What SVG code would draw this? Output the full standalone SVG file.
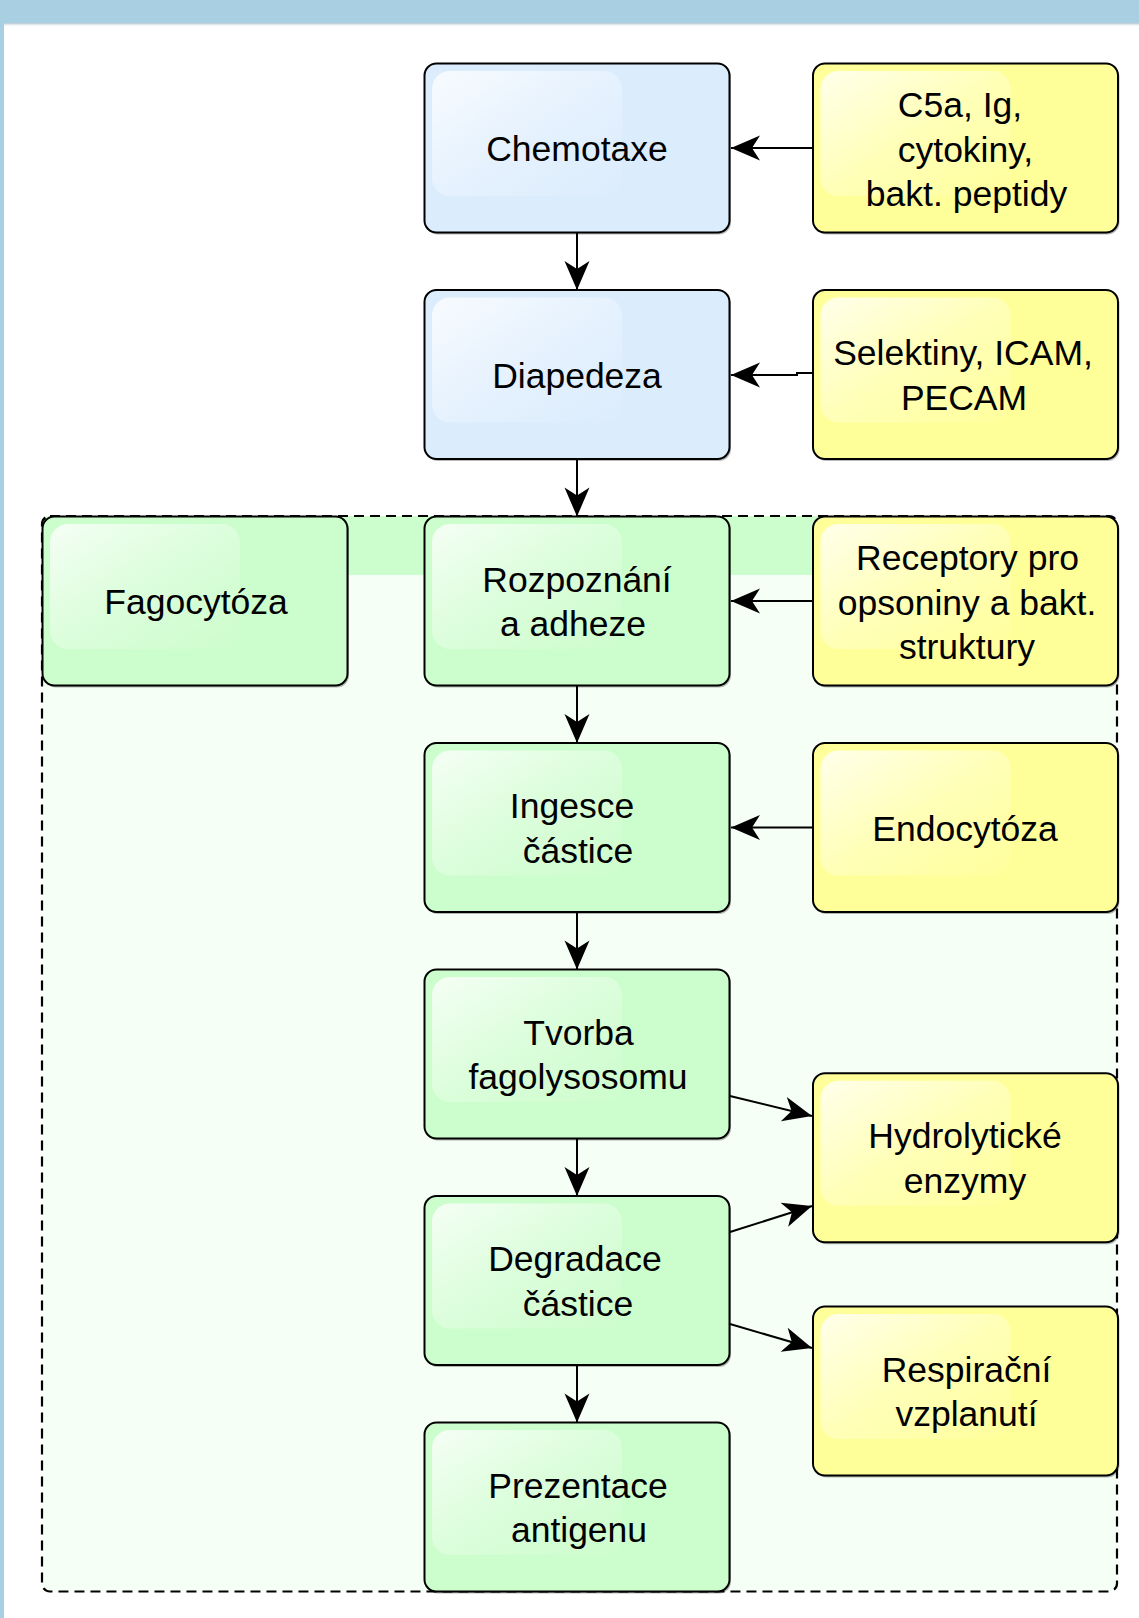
<svg xmlns="http://www.w3.org/2000/svg" width="1139" height="1618" viewBox="0 0 1139 1618">
<style>
.box{stroke:#000;stroke-width:2}
.blue{fill:#dbecfd}
.green{fill:#ccfdcc}
.yellow{fill:#ffff9a}
.hl{fill:url(#hlg)}
.sh{fill:#000;opacity:0.28}
text{font-family:"Liberation Sans",Arial,sans-serif;font-size:35.5px;fill:#000;text-anchor:middle}
.edge{fill:none;stroke:#000;stroke-width:2;marker-end:url(#arr)}
</style>
<defs>
<linearGradient id="hlg" x1="0" y1="0" x2="1" y2="1">
<stop offset="0" stop-color="#fff" stop-opacity="0.8"/>
<stop offset="0.5" stop-color="#fff" stop-opacity="0.3"/>
<stop offset="1" stop-color="#fff" stop-opacity="0.02"/>
</linearGradient>
<linearGradient id="topsh" x1="0" y1="0" x2="0" y2="1">
<stop offset="0" stop-color="#7a9aaa" stop-opacity="0.6"/>
<stop offset="1" stop-color="#fff" stop-opacity="0"/>
</linearGradient>
<marker id="arr" markerUnits="userSpaceOnUse" markerWidth="30" markerHeight="26" refX="29" refY="12.5" orient="auto" overflow="visible">
<path d="M0,0 L29,12.5 L0,25 L8,12.5 Z" fill="#000"/>
</marker>
</defs>
<rect x="0" y="0" width="1139" height="1618" fill="#fff"/>
<rect x="0" y="0" width="1139" height="23" fill="#a9cfe3"/>
<rect x="4" y="23" width="1135" height="4" fill="url(#topsh)"/>
<rect x="0" y="0" width="4" height="1618" fill="#a9cfe3"/>

<g id="container">
<rect x="42" y="516" width="1075" height="1075.5" rx="8" fill="#f5fff5"/>
<path d="M42,575 L42,524 Q42,516 50,516 L1109,516 Q1117,516 1117,524 L1117,575 Z" fill="#ccfdcc"/>
<rect x="42" y="516" width="1075" height="1075.5" rx="8" fill="none" stroke="#000" stroke-width="2.2" stroke-dasharray="10 6"/>
</g>

<g id="connectors">
<path class="edge" d="M813,148 L731,148"/>
<path class="edge" d="M577,232.5 L577,290"/>
<path class="edge" d="M813,373 L797,373 L797,375 L731,375"/>
<path class="edge" d="M577,459 L577,516.5"/>
<path class="edge" d="M813,601 L731,601"/>
<path class="edge" d="M577,685.5 L577,743"/>
<path class="edge" d="M813,827.5 L731,827.5"/>
<path class="edge" d="M577,912 L577,969.5"/>
<path class="edge" d="M730,1096 L812,1116"/>
<path class="edge" d="M577,1138.5 L577,1196"/>
<path class="edge" d="M730,1232 L812,1206"/>
<path class="edge" d="M730,1324 L812,1348"/>
<path class="edge" d="M577,1365 L577,1422.5"/>
</g>

<g id="chemotaxe">
<rect class="sh" x="426" y="65.5" width="305" height="169" rx="12"/>
<rect class="box blue" x="424.5" y="63.5" width="305" height="169" rx="12"/>
<rect class="hl" x="432" y="71" width="190" height="125" rx="18"/>
<text x="577" y="161">Chemotaxe</text>
</g>
<g id="diapedeza">
<rect class="sh" x="426" y="292" width="305" height="169" rx="12"/>
<rect class="box blue" x="424.5" y="290" width="305" height="169" rx="12"/>
<rect class="hl" x="432" y="297.5" width="190" height="125" rx="18"/>
<text x="577" y="388">Diapedeza</text>
</g>
<g id="fagocytoza">
<rect class="sh" x="44" y="518.5" width="305" height="169" rx="12"/>
<rect class="box green" x="42.5" y="516.5" width="305" height="169" rx="12"/>
<rect class="hl" x="50" y="524" width="190" height="125" rx="18"/>
<text x="196" y="614">Fagocytóza</text>
</g>
<g id="rozpoznani">
<rect class="sh" x="426" y="518.5" width="305" height="169" rx="12"/>
<rect class="box green" x="424.5" y="516.5" width="305" height="169" rx="12"/>
<rect class="hl" x="432" y="524" width="190" height="125" rx="18"/>
<text x="577" y="591.5">Rozpoznání</text>
<text x="573" y="636">a adheze</text>
</g>
<g id="ingesce">
<rect class="sh" x="426" y="745" width="305" height="169" rx="12"/>
<rect class="box green" x="424.5" y="743" width="305" height="169" rx="12"/>
<rect class="hl" x="432" y="750.5" width="190" height="125" rx="18"/>
<text x="572" y="818">Ingesce</text>
<text x="578" y="862.5">částice</text>
</g>
<g id="tvorba">
<rect class="sh" x="426" y="971.5" width="305" height="169" rx="12"/>
<rect class="box green" x="424.5" y="969.5" width="305" height="169" rx="12"/>
<rect class="hl" x="432" y="977" width="190" height="125" rx="18"/>
<text x="578.5" y="1044.5">Tvorba</text>
<text x="578" y="1089">fagolysosomu</text>
</g>
<g id="degradace">
<rect class="sh" x="426" y="1198" width="305" height="169" rx="12"/>
<rect class="box green" x="424.5" y="1196" width="305" height="169" rx="12"/>
<rect class="hl" x="432" y="1203.5" width="190" height="125" rx="18"/>
<text x="575" y="1271">Degradace</text>
<text x="578" y="1315.5">částice</text>
</g>
<g id="prezentace">
<rect class="sh" x="426" y="1424.5" width="305" height="169" rx="12"/>
<rect class="box green" x="424.5" y="1422.5" width="305" height="169" rx="12"/>
<rect class="hl" x="432" y="1430" width="190" height="125" rx="18"/>
<text x="578" y="1497.5">Prezentace</text>
<text x="579" y="1542">antigenu</text>
</g>

<g id="c5a">
<rect class="sh" x="814.5" y="65.5" width="305" height="169" rx="12"/>
<rect class="box yellow" x="813" y="63.5" width="305" height="169" rx="12"/>
<rect class="hl" x="820.5" y="71" width="190" height="125" rx="18"/>
<text x="960" y="117">C5a, Ig,</text>
<text x="965.5" y="161.5">cytokiny,</text>
<text x="966.5" y="206">bakt. peptidy</text>
</g>
<g id="selektiny">
<rect class="sh" x="814.5" y="292" width="305" height="169" rx="12"/>
<rect class="box yellow" x="813" y="290" width="305" height="169" rx="12"/>
<rect class="hl" x="820.5" y="297.5" width="190" height="125" rx="18"/>
<text x="963" y="365">Selektiny, ICAM,</text>
<text x="964" y="410">PECAM</text>
</g>
<g id="receptory">
<rect class="sh" x="814.5" y="518.5" width="305" height="169" rx="12"/>
<rect class="box yellow" x="813" y="516.5" width="305" height="169" rx="12"/>
<rect class="hl" x="820.5" y="524" width="190" height="125" rx="18"/>
<text x="967.5" y="570">Receptory pro</text>
<text x="967" y="614.5">opsoniny a bakt.</text>
<text x="967" y="659">struktury</text>
</g>
<g id="endocytoza">
<rect class="sh" x="814.5" y="745" width="305" height="169" rx="12"/>
<rect class="box yellow" x="813" y="743" width="305" height="169" rx="12"/>
<rect class="hl" x="820.5" y="750.5" width="190" height="125" rx="18"/>
<text x="965" y="840.5">Endocytóza</text>
</g>
<g id="hydrolyticke">
<rect class="sh" x="814.5" y="1075.3" width="305" height="169" rx="12"/>
<rect class="box yellow" x="813" y="1073.3" width="305" height="169" rx="12"/>
<rect class="hl" x="820.5" y="1080.8" width="190" height="125" rx="18"/>
<text x="965" y="1148.3">Hydrolytické</text>
<text x="965" y="1192.8">enzymy</text>
</g>
<g id="respiracni">
<rect class="sh" x="814.5" y="1308.5" width="305" height="169" rx="12"/>
<rect class="box yellow" x="813" y="1306.5" width="305" height="169" rx="12"/>
<rect class="hl" x="820.5" y="1314" width="190" height="125" rx="18"/>
<text x="966.5" y="1381.5">Respirační</text>
<text x="966.5" y="1426">vzplanutí</text>
</g>
</svg>
